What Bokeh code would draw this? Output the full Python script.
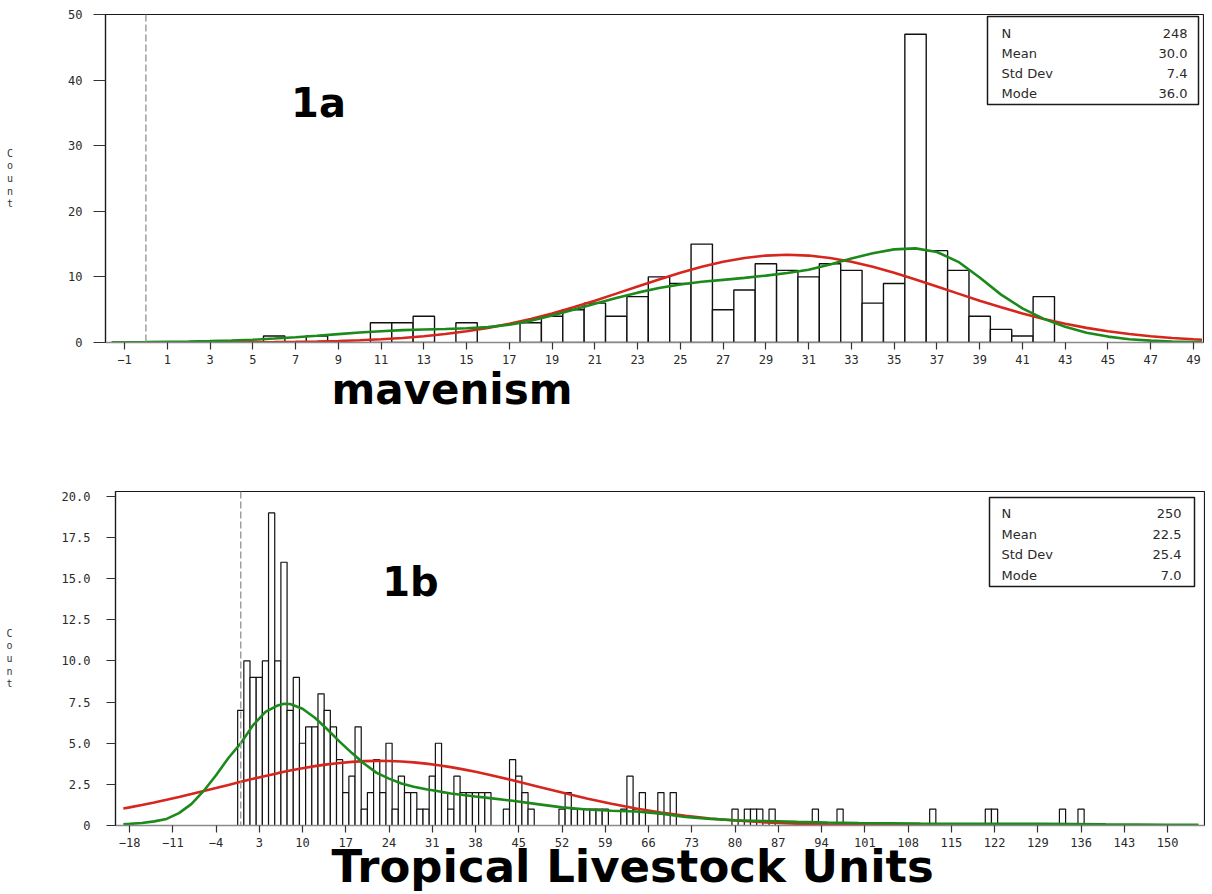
from bokeh.plotting import figure
from bokeh.models import FixedTicker, Span, Label, BoxAnnotation, Range1d, Title
from bokeh.embed import file_html
from bokeh.resources import INLINE

# ---------------- Panel 1a : mavenism ----------------
mav_values = [6, 8, 11, 12, 13, 15, 18, 19, 20, 21, 22, 23, 24, 25, 26, 27, 28, 29, 30,
              31, 32, 33, 34, 35, 36, 37, 38, 39, 40, 41, 42]
mav_counts = [1, 1, 3, 3, 4, 3, 3, 4, 5, 6, 4, 7, 10, 9, 15, 5, 8, 12, 11,
              10, 12, 11, 6, 9, 47, 14, 11, 4, 2, 1, 7]
mav_curve_x = [-1.6, 0, 1, 2, 3, 4, 5, 6, 7, 8, 9, 10, 11, 12, 13, 14, 15, 16, 17, 18, 19,
               20, 21, 22, 23, 24, 25, 26, 27, 28, 29, 30, 31, 32, 33, 34, 35, 36, 37, 38,
               39, 40, 41, 42, 43, 44, 45, 46, 47, 48, 49, 49.4]
mav_normal = [0.0, 0.004, 0.006, 0.01, 0.017, 0.028, 0.044, 0.069, 0.107, 0.161, 0.238,
              0.347, 0.495, 0.694, 0.955, 1.29, 1.71, 2.23, 2.86, 3.59, 4.43, 5.37, 6.38,
              7.45, 8.55, 9.62, 10.64, 11.55, 12.32, 12.89, 13.25, 13.37, 13.25, 12.89,
              12.32, 11.55, 10.64, 9.62, 8.55, 7.45, 6.38, 5.37, 4.43, 3.59, 2.86, 2.23,
              1.71, 1.29, 0.955, 0.694, 0.495, 0.43]
mav_kernel = [0.0, 0.05, 0.1, 0.15, 0.22, 0.3, 0.42, 0.6, 0.8, 1.03, 1.28, 1.52, 1.72,
              1.88, 1.98, 2.06, 2.18, 2.35, 2.7, 3.3, 4.1, 5.0, 5.9, 6.8, 7.6, 8.3, 8.85,
              9.25, 9.55, 9.85, 10.2, 10.6, 11.1, 11.9, 12.8, 13.6, 14.2, 14.35, 13.8,
              12.3, 9.9, 7.3, 5.2, 3.6, 2.4, 1.5, 0.9, 0.5, 0.28, 0.15, 0.08, 0.06]
mav_xticks = [-1, 1, 3, 5, 7, 9, 11, 13, 15, 17, 19, 21, 23, 25, 27, 29, 31, 33, 35, 37,
              39, 41, 43, 45, 47, 49]
mav_yticks = [0, 10, 20, 30, 40, 50]
mav_ylabels = ["0", "10", "20", "30", "40", "50"]
mav_stat_names = ["N", "Mean", "Std Dev", "Mode"]
mav_stat_values = ["248", "30.0", "7.4", "36.0"]

# ---------------- Panel 1b : Tropical Livestock Units ----------------
tlu_values = [0, 1, 2, 3, 4, 5, 6, 7, 8, 9, 10, 11, 12, 13, 14, 15, 16, 17, 18, 19, 20,
              21, 22, 23, 24, 25, 26, 27, 28, 29, 30, 31, 32, 33, 34, 35, 36, 37, 38, 39, 40,
              43, 44, 45, 46, 47, 52, 53, 54, 55, 56, 57, 58, 59,
              62, 63, 64, 65, 68, 70, 80, 82, 83, 84, 86, 93, 97, 112, 121, 122, 133, 136]
tlu_counts = [7, 10, 9, 9, 10, 19, 10, 16, 7, 9, 5, 6, 6, 8, 7, 6, 4, 2, 3, 6, 1,
              2, 4, 2, 5, 1, 3, 2, 2, 1, 1, 3, 5, 2, 1, 3, 2, 2, 2, 2, 2,
              1, 4, 3, 2, 1, 1, 2, 1, 1, 1, 1, 1, 1,
              1, 3, 1, 2, 2, 2, 1, 1, 1, 1, 1, 1, 1, 1, 1, 1, 1, 1]
tlu_curve_x = [-19, -18, -16, -14, -12, -10, -8, -6, -4, -2, 0, 2, 4, 6, 7, 8, 10, 12, 14,
               16, 18, 20, 22, 24, 26, 28, 30, 32, 34, 36, 38, 40, 44, 48, 52, 56, 60, 64,
               68, 72, 76, 80, 85, 90, 95, 100, 110, 120, 130, 140, 150, 155]
tlu_normal = [1.034, 1.102, 1.246, 1.400, 1.562, 1.733, 1.911, 2.094, 2.280, 2.468, 2.655,
              2.837, 3.014, 3.182, 3.262, 3.339, 3.481, 3.608, 3.716, 3.803, 3.869, 3.911,
              3.929, 3.923, 3.893, 3.839, 3.762, 3.665, 3.547, 3.412, 3.262, 3.100, 2.747,
              2.374, 2.002, 1.647, 1.322, 1.034, 0.790, 0.588, 0.428, 0.303, 0.190, 0.115,
              0.067, 0.037, 0.010, 0.003, 0.0, 0.0, 0.0, 0.0]
tlu_kernel = [0.08, 0.1, 0.15, 0.25, 0.4, 0.75, 1.3, 2.1, 3.05, 4.1, 5.0, 6.1, 6.9, 7.3,
              7.4, 7.38, 7.1, 6.55, 5.85, 5.1, 4.4, 3.75, 3.2, 2.85, 2.55, 2.35, 2.2, 2.08,
              1.95, 1.85, 1.76, 1.68, 1.5, 1.3, 1.1, 0.97, 0.9, 0.85, 0.72, 0.52, 0.4, 0.32,
              0.27, 0.22, 0.18, 0.15, 0.12, 0.11, 0.1, 0.07, 0.05, 0.04]
tlu_xticks = [-18, -11, -4, 3, 10, 17, 24, 31, 38, 45, 52, 59, 66, 73, 80, 87, 94, 101,
              108, 115, 122, 129, 136, 143, 150]
tlu_yticks = [0, 2.5, 5, 7.5, 10, 12.5, 15, 17.5, 20]
tlu_ylabels = ["0", "2.5", "5.0", "7.5", "10.0", "12.5", "15.0", "17.5", "20.0"]
tlu_stat_names = ["N", "Mean", "Std Dev", "Mode"]
tlu_stat_values = ["250", "22.5", "25.4", "7.0"]

RED = "#d6261d"
GREEN = "#1b8a1b"
TICK_FONT = "DejaVu Sans Mono"
BIG_FONT = "DejaVu Sans"


def make_panel(width, height, xr, yr, borders, xticks, yticks, ylabels,
               y_tick_out, y_standoff, ylabel_standoff):
    left, right, top, bottom = borders
    p = figure(width=width, height=height,
               x_range=Range1d(*xr), y_range=Range1d(*yr),
               output_backend="svg", toolbar_location=None,
               min_border_left=left, min_border_right=right,
               min_border_top=top, min_border_bottom=bottom)
    p.grid.visible = False
    p.outline_line_color = "#1a1a1a"
    p.outline_line_width = 1.2
    p.background_fill_color = "white"
    p.border_fill_color = "white"

    xa = p.xaxis[0]
    xa.ticker = FixedTicker(ticks=xticks)
    xa.axis_line_color = "#8a8a8a"
    xa.axis_line_width = 1.5
    xa.major_tick_in = 0
    xa.major_tick_out = 7
    xa.major_label_standoff = 5

    ya = p.yaxis[0]
    ya.ticker = FixedTicker(ticks=yticks)
    ya.major_label_overrides = {t: s for t, s in zip(yticks, ylabels)}
    ya.axis_line_color = "#1a1a1a"
    ya.axis_line_width = 1.2
    ya.major_tick_in = 0
    ya.major_tick_out = y_tick_out
    ya.major_label_standoff = y_standoff
    # stacked, upright "Count" label
    ya.axis_label = "C\no\nu\nn\nt"
    ya.axis_label_text_font = TICK_FONT
    ya.axis_label_text_font_size = "10px"
    ya.axis_label_text_font_style = "normal"
    ya.axis_label_text_color = "#333333"
    ya.axis_label_text_line_height = 1.15
    ya.axis_label_standoff = ylabel_standoff
    if "axis_label_orientation" in ya.properties():
        ya.axis_label_orientation = "horizontal"

    for ax in (xa, ya):
        ax.minor_tick_line_color = None
        ax.major_tick_line_color = "#333333"
        ax.major_tick_line_width = 1.2
        ax.major_label_text_font = TICK_FONT
        ax.major_label_text_font_size = "12px"
        ax.major_label_text_color = "#2a2a2a"
    return p


def draw_hist(p, values, counts, curve_x, normal, kernel, lw_bar):
    p.vbar(x=values, width=1, top=counts, bottom=0, fill_color="white",
           line_color="#111111", line_width=lw_bar)
    p.line(curve_x, normal, line_color=RED, line_width=2.6)
    p.line(curve_x, kernel, line_color=GREEN, line_width=2.6)
    p.add_layout(Span(location=0, dimension="height", line_color="#9a9a9a",
                      line_width=1.4, line_dash="7 3"))


def screen_label(p, x, y, text, size, font=BIG_FONT, bold=False, align="center",
                 baseline="middle", color="#000000"):
    p.add_layout(Label(x=x, y=y, x_units="screen", y_units="screen", text=text,
                       text_font=font, text_font_size=size,
                       text_font_style="bold" if bold else "normal",
                       text_align=align, text_baseline=baseline, text_color=color))


def below_title(p, text, offset, size, standoff):
    t = Title(text=text, align="left", offset=offset, text_font=BIG_FONT,
              text_font_size=size, text_font_style="bold", text_color="#000000")
    try:
        t.standoff = standoff
    except Exception:
        t.standoff = 0
    p.add_layout(t, "below")


def stats_box(p, box, names, vals, name_x, val_x, rows):
    l, r, t, b = box
    p.add_layout(BoxAnnotation(left=l, right=r, top=t, bottom=b,
                               left_units="screen", right_units="screen",
                               top_units="screen", bottom_units="screen",
                               fill_color="white", fill_alpha=1.0,
                               line_color="#1a1a1a", line_width=1.5, line_alpha=1.0))
    for n, v, y in zip(names, vals, rows):
        screen_label(p, name_x, y, n, "13px", font="DejaVu Sans", align="left",
                     color="#2a2a2a")
        screen_label(p, val_x, y, v, "13px", font="DejaVu Sans", align="right",
                     color="#2a2a2a")


H1 = 440

# ---- top panel (frame: x 105..1203, y 14..342) ----
p1 = make_panel(1204, H1, (-1.89, 49.47), (0, 50.0), (105, 1, 14, H1 - 342),
                mav_xticks, mav_yticks, mav_ylabels, 12, 11, 52)
draw_hist(p1, mav_values, mav_counts, mav_curve_x, mav_normal, mav_kernel, 1.4)
stats_box(p1, (882, 1093, 326, 238), mav_stat_names, mav_stat_values, 896, 1082,
          [309, 289, 269, 249])
screen_label(p1, 213, 240, "1a", "40px", bold=True)
below_title(p1, "mavenism", 226, "42px", -8)

# ---- bottom panel (frame: x 115..1204, y 491..825) ----
H2 = 894 - H1
p2 = make_panel(1205, H2, (-20.27, 155.98), (0, 20.3), (115, 1, 491 - H1, 69),
                tlu_xticks, tlu_yticks, tlu_ylabels, 9, 16, 46)
draw_hist(p2, tlu_values, tlu_counts, tlu_curve_x, tlu_normal, tlu_kernel, 1.2)
stats_box(p2, (874, 1079, 328, 239), tlu_stat_names, tlu_stat_values, 886, 1066,
          [312, 291, 271, 250])
screen_label(p2, 295, 244, "1b", "40px", bold=True)
below_title(p2, "Tropical Livestock Units", 216, "45px", -24)

open("out.html", "w").write(file_html([p1, p2], INLINE))
